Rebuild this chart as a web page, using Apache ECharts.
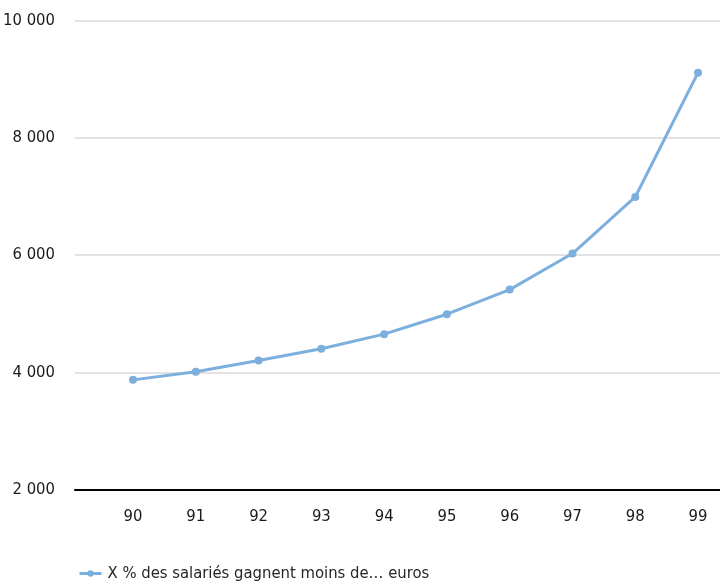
<!DOCTYPE html>
<html><head><meta charset="utf-8">
<script src="https://cdn.jsdelivr.net/npm/echarts@6/dist/echarts.min.js"></script>
<style>html,body{margin:0;padding:0;background:#fff}#c{width:720px;height:583px}</style>
</head><body><div id="c"></div>
<script>
const categories = ['90','91','92','93','94','95','96','97','98','99'];
const values = [3870, 4010, 4200, 4400, 4650, 4990, 5410, 6025, 6990, 9110];
const yTicks = [2000, 4000, 6000, 8000, 10000];
const seriesName = 'X % des salariés gagnent moins de… euros';

const FONT = '"DejaVu Sans Condensed", "DejaVu Sans", sans-serif';
const xs = categories.map(Number);
const chart = echarts.init(document.getElementById('c'), null, {renderer: 'canvas'});
chart.setOption({
  animation: false,
  grid: {left: 75, right: 0, top: 20.5, bottom: 93.5, containLabel: false, outerBoundsMode: 'none'},
  xAxis: {
    type: 'value', min: 89.076, max: 99.35,
    axisLine: {show: true, onZero: false, lineStyle: {color: '#000', width: 2}},
    axisTick: {show: false},
    splitLine: {show: false},
    axisLabel: {customValues: xs, formatter: v => String(Math.round(v)), color: '#1a1a1a', fontFamily: FONT, fontSize: 16.5, margin: 19}
  },
  yAxis: {
    type: 'value', min: 2000, max: 10000, interval: 2000,
    axisLine: {show: false}, axisTick: {show: false},
    splitLine: {lineStyle: {color: '#d9d9d9', width: 1.5}},
    axisLabel: {color: '#1a1a1a', fontFamily: FONT, fontSize: 16.5, margin: 20,
      formatter: v => yTicks.includes(v) ? String(v).replace(/\B(?=(\d{3})+(?!\d))/g, ' ') : ''}
  },
  legend: {
    left: 78, top: 565, padding: 0, itemWidth: 22, itemHeight: 8, itemGap: 10,
    lineStyle: {width: 3},
    textStyle: {color: '#262626', fontFamily: FONT, fontSize: 16.5, padding: [0,0,0,1]},
    data: [seriesName]
  },
  series: [{
    name: seriesName, type: 'line',
    data: xs.map((x, i) => [x, values[i]]),
    symbol: 'circle', symbolSize: 8,
    lineStyle: {color: '#7cafdd', width: 3},
    itemStyle: {color: '#7cafdd'}
  }]
});
</script></body></html>
